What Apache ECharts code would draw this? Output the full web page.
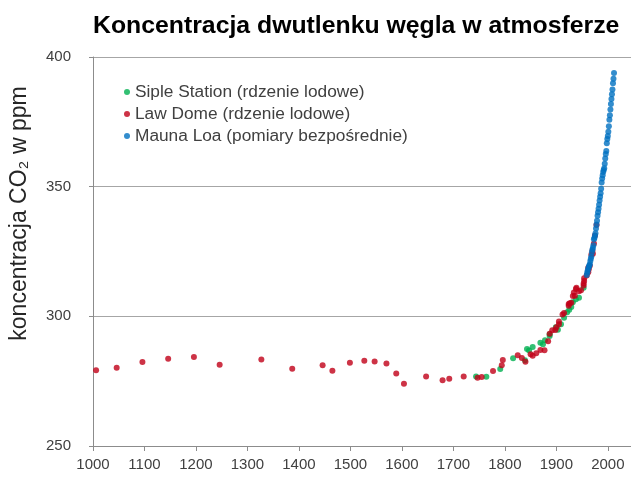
<!DOCTYPE html>
<html>
<head>
<meta charset="utf-8">
<script src="https://cdn.jsdelivr.net/npm/echarts@6/dist/echarts.min.js"></script>
<style>html,body{margin:0;padding:0;background:#fff}#c{width:631px;height:477px}</style>
</head>
<body>
<div id="c"></div>
<script>
const titleText = 'Koncentracja dwutlenku węgla w atmosferze';
const yAxisTitle = 'koncentracja CO₂ w ppm';
const seriesNames = ['Siple Station (rdzenie lodowe)', 'Law Dome (rdzenie lodowe)', 'Mauna Loa (pomiary bezpośrednie)'];
const xTicks = [1000, 1100, 1200, 1300, 1400, 1500, 1600, 1700, 1800, 1900, 2000];
const yTicks = [250, 300, 350, 400];

const sipleYears = [1744, 1764, 1791, 1816, 1839, 1843, 1847, 1854, 1869, 1874, 1878, 1887, 1887, 1899, 1903, 1909, 1915, 1921, 1925, 1929, 1932, 1938, 1944, 1953];
const sipleValues = [276.8, 276.7, 279.7, 283.8, 283.1, 287.4, 286.8, 288.2, 289.8, 289.2, 290.8, 292.4, 293.1, 295.8, 294.8, 296.9, 299.5, 301.6, 302.5, 303.6, 305.4, 306.6, 307.2, 311.0];

const lawYears = [1006, 1046, 1096, 1146, 1196, 1246, 1327, 1387, 1446, 1465, 1499, 1527, 1547, 1570, 1589, 1604, 1647, 1679, 1692, 1720, 1747, 1755, 1777, 1794, 1796, 1825, 1833, 1840, 1850, 1854, 1861, 1869, 1877, 1884, 1887, 1892, 1898, 1900, 1905, 1905, 1912, 1915, 1924, 1924, 1926, 1929, 1932, 1934, 1936, 1938, 1939, 1944, 1948, 1953, 1953, 1954, 1954, 1959, 1962, 1962, 1963, 1965, 1968, 1970, 1971, 1973, 1975, 1978];
const lawValues = [279.2, 280.2, 282.4, 283.6, 284.3, 281.3, 283.4, 279.8, 281.1, 279.0, 282.1, 282.9, 282.6, 281.8, 278.0, 274.0, 276.8, 275.4, 275.9, 276.8, 276.3, 276.6, 278.9, 281.1, 283.2, 285.0, 283.9, 282.5, 285.4, 284.8, 285.8, 287.0, 286.9, 290.4, 293.3, 294.6, 294.7, 295.8, 296.9, 298.0, 300.7, 301.3, 304.8, 304.1, 305.0, 305.2, 307.8, 309.2, 307.9, 310.5, 311.0, 309.7, 310.1, 311.9, 312.7, 313.6, 314.7, 315.7, 318.7, 317.0, 318.2, 319.5, 323.7, 325.2, 324.1, 328.1, 331.2, 335.2];

const maunaYears = [1959, 1960, 1961, 1962, 1963, 1964, 1965, 1966, 1967, 1968, 1969, 1970, 1971, 1972, 1973, 1974, 1975, 1976, 1977, 1978, 1979, 1980, 1981, 1982, 1983, 1984, 1985, 1986, 1987, 1988, 1989, 1990, 1991, 1992, 1993, 1994, 1995, 1996, 1997, 1998, 1999, 2000, 2001, 2002, 2003, 2004, 2005, 2006, 2007, 2008, 2009, 2010, 2011, 2012];
const maunaValues = [315.97, 316.91, 317.64, 318.45, 318.99, 319.62, 320.04, 321.38, 322.16, 323.04, 324.62, 325.68, 326.32, 327.45, 329.68, 330.18, 331.11, 332.04, 333.83, 335.40, 336.84, 338.75, 340.11, 341.45, 343.05, 344.65, 346.12, 347.42, 349.19, 351.57, 353.12, 354.39, 355.61, 356.45, 357.10, 358.83, 360.82, 362.61, 363.73, 366.70, 368.38, 369.55, 371.14, 373.28, 375.80, 377.52, 379.80, 381.90, 383.79, 385.60, 387.43, 389.90, 391.65, 393.85];

const colors = ['#00b050', '#c00018', '#0070c0'];
const pairs = (xs, ys) => xs.map((x, i) => [x, ys[i]]);

const chart = echarts.init(document.getElementById('c'), null, {renderer: 'canvas'});
const FONT = '"Liberation Sans", Arial, sans-serif';
chart.setOption({
  animation: false,
  backgroundColor: '#ffffff',
  color: colors,
  title: {
    text: titleText,
    left: 93,
    top: 14,
    padding: 0,
    textStyle: {fontFamily: FONT, fontSize: 24.8, fontWeight: 'bold', color: '#000'}
  },
  legend: {
    orient: 'vertical',
    left: 124,
    top: 83,
    icon: 'circle',
    itemWidth: 6,
    itemHeight: 6,
    itemGap: 4,
    padding: 0,
    textStyle: {fontFamily: FONT, fontSize: 17.3, color: '#404040', lineHeight: 18},
    data: seriesNames
  },
  grid: {left: 88, right: 0, top: 57, bottom: 31, containLabel: false},
  xAxis: {
    type: 'value',
    min: 1000,
    max: 2045,
    interval: 100,
    axisLine: {show: true, lineStyle: {color: '#8c8c8c', width: 1}},
    axisTick: {show: true, length: 5, lineStyle: {color: '#8c8c8c'}},
    splitLine: {show: false},
    axisLabel: {
      fontFamily: FONT, fontSize: 15, color: '#404040', margin: 11,
      showMaxLabel: false,
      formatter: v => (xTicks.indexOf(v) >= 0 ? String(v) : '')
    }
  },
  yAxis: {
    type: 'value',
    min: yTicks[0],
    max: yTicks[yTicks.length - 1],
    interval: 50,
    name: yAxisTitle,
    nameLocation: 'middle',
    nameRotate: 90,
    nameGap: 62,
    nameTextStyle: {fontFamily: FONT, fontSize: 23, color: '#262626', padding: [0, 0, 0, 76]},
    axisLine: {show: true, lineStyle: {color: '#8c8c8c', width: 1}},
    axisTick: {show: true, length: 4, lineStyle: {color: '#8c8c8c'}},
    splitLine: {show: true, lineStyle: {color: '#a6a6a6', width: 1}},
    axisLabel: {fontFamily: FONT, fontSize: 15, color: '#404040', margin: 22,
      formatter: v => (yTicks.indexOf(v) >= 0 ? String(v) : '')}
  },
  series: [
    {name: seriesNames[0], type: 'scatter', symbol: 'circle', symbolSize: 6, data: pairs(sipleYears, sipleValues), itemStyle: {color: colors[0]}},
    {name: seriesNames[1], type: 'scatter', symbol: 'circle', symbolSize: 6, data: pairs(lawYears, lawValues), itemStyle: {color: colors[1]}},
    {name: seriesNames[2], type: 'scatter', symbol: 'circle', symbolSize: 6, data: pairs(maunaYears, maunaValues), itemStyle: {color: colors[2]}}
  ]
});
</script>
</body>
</html>
